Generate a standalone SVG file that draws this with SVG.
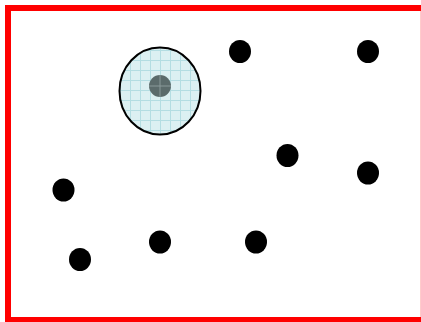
<svg xmlns="http://www.w3.org/2000/svg" width="421" height="322" viewBox="0 0 421 322">
<style>
.dot{fill:#000}
</style>
<defs>
<pattern id="grid" x="0" y="0" width="10" height="10" patternUnits="userSpaceOnUse">
<rect width="10" height="10" fill="#dcf0f2"/>
<path d="M0 0.5H10M0.5 0V10" stroke="#b4dde2" stroke-width="1" fill="none"/>
</pattern>
</defs>
<rect x="8" y="8" width="415.8" height="312" fill="#fff" stroke="#f00" stroke-width="6"/>
<g id="zone">
<ellipse cx="160" cy="91" rx="40.5" ry="43.5" fill="url(#grid)" stroke="#000" stroke-width="2"/>
<circle cx="160" cy="86" r="11" fill="#5b6b6b"/>
<path d="M149 86H171M160 75V97" stroke="#8a9a9a" stroke-width="1"/>
</g>
<g id="connectors"></g>
<g id="n1"><ellipse class="dot" cx="240" cy="51.5" rx="11" ry="11.5"/></g>
<g id="n2"><ellipse class="dot" cx="368" cy="51.5" rx="11" ry="11.5"/></g>
<g id="n3"><ellipse class="dot" cx="287.5" cy="155.5" rx="11" ry="11.5"/></g>
<g id="n4"><ellipse class="dot" cx="368" cy="173" rx="11" ry="11.5"/></g>
<g id="n5"><ellipse class="dot" cx="63.5" cy="190" rx="11" ry="11.5"/></g>
<g id="n6"><ellipse class="dot" cx="80" cy="259.5" rx="11" ry="11.5"/></g>
<g id="n7"><ellipse class="dot" cx="160" cy="242" rx="11" ry="11.5"/></g>
<g id="n8"><ellipse class="dot" cx="256" cy="242" rx="11" ry="11.5"/></g>
</svg>
